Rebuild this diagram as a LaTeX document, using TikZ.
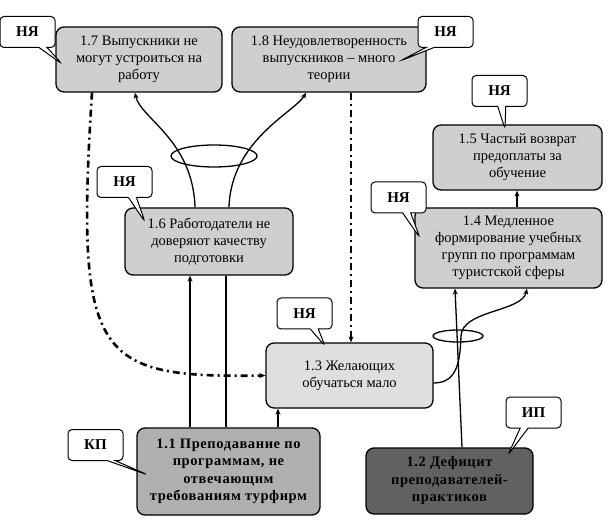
\documentclass[tikz,border=0pt]{standalone}
\usepackage{fontspec}
\setmainfont{Liberation Serif}
\usetikzlibrary{arrows.meta, shapes.callouts}

\begin{document}
\begin{tikzpicture}[x=1pt, y=-1pt,
      >={Stealth[length=6pt, width=5pt]},
  box/.style  = {draw, line width=1.3pt, rounded corners=8pt,
                 fill=gray!38, align=center, inner sep=2pt,
                 font=\rmfamily\fontsize{14.5}{17}\selectfont},
  boldbox/.style = {box, font=\rmfamily\fontsize{14.5}{17.5}\selectfont\bfseries\addfontfeatures{LetterSpace=4}},
  tag/.style  = {rectangle callout, draw, line width=1pt, fill=white,
                 rounded corners=4pt, minimum width=55pt, minimum height=31pt,
                 callout pointer width=8pt,
                 font=\rmfamily\fontsize{15}{16}\selectfont\bfseries},
  link/.style = {line width=1.3pt},
  dashdot/.style = {line width=2.6pt,
                 dash pattern=on 7pt off 4pt on 2pt off 4pt}]
  \useasboundingbox (0,0) rectangle (608,521);

  % boxes
  \node[box, minimum width=166pt, minimum height=65pt] (b17) at (139,59.5)
    {1.7 Выпускники не\\могут устроиться на\\работу};
  \node[box, minimum width=194pt, minimum height=65pt] (b18) at (329,59.5)
    {1.8 Неудовлетворенность\\выпускников -- много\\теории};
  \node[box, minimum width=169pt, minimum height=65pt] (b15) at (517.5,157.5)
    {1.5 Частый возврат\\предоплаты за\\обучение};
  \node[box, minimum width=187pt, minimum height=80pt] (b14) at (508.5,248)
    {1.4 Медленное\\формирование учебных\\групп по программам\\туристской сферы};
  \node[box, minimum width=168pt, minimum height=67pt] (b16) at (209,241.5)
    {1.6 Работодатели не\\доверяют качеству\\подготовки};
  \node[box, fill=gray!25, minimum width=167pt, minimum height=65pt] (b13) at (349.5,375.5)
    {1.3 Желающих\\обучаться мало};
  \node[boldbox, fill=gray!62, minimum width=183pt, minimum height=87pt] (b11) at (228.5,471.5)
    {1.1 Преподавание по\\программам, не\\отвечающим\\требованиям турфирм};
  \node[boldbox, fill=black!62, minimum width=167pt, minimum height=66pt] (b12) at (449.5,481)
    {1.2 Дефицит\\преподавателей-\\практиков};

  % links
  \draw[link, ->] ([xshift=-38.5pt]b11.north) -- ([xshift=-38.5pt]b11.north |- b16.south);
  \draw[link] ([xshift=-2.5pt]b11.north) -- ([xshift=-2.5pt]b11.north |- b16.south);
  \draw[link, ->] ([xshift=49.5pt]b11.north) -- ([xshift=49.5pt]b11.north |- b13.south);
  \draw[link, ->] ([xshift=-14pt]b16.north) .. controls (193,140) and (140,118) .. ([xshift=-4pt]b17.south);
  \draw[link, ->] ([xshift=20pt]b16.north) .. controls (231,140) and (295,112) .. ([xshift=-23pt]b18.south);
  \draw[link] (214,156) ellipse (43 and 11);

  \draw[link, ->] (b13.east |- 0,383) .. controls (458,383) and (460,360) .. (461,336)
                  .. controls (462,310) and (522,312) .. ([xshift=18.5pt]b14.south);
  \draw[link, ->] ([xshift=12.5pt]b12.north) -- ([xshift=-53.5pt]b14.south);
  \draw[link] (458,336) ellipse (25 and 6);
  \draw[link, ->] ([xshift=8.5pt]b14.north) -- ([xshift=8.5pt]b14.north |- b15.south);

  \draw[dashdot, ->] ([xshift=-47pt]b17.south) .. controls (75,360) and (95,378) .. (b13.west);
  \draw[dashdot, ->] ([xshift=22pt]b18.south) -- ([xshift=22pt]b18.south |- b13.north);

  % tags
  \node[tag, callout absolute pointer={(62,64)}]   (t17) at (27.5,32)    {НЯ};
  \node[tag, callout absolute pointer={(400,61)}]  (t18) at (445.5,32)   {НЯ};
  \node[tag, callout absolute pointer={(505,129)}] (t15) at (499.5,91)   {НЯ};
  \node[tag, callout absolute pointer={(420,238)}] (t14) at (398.5,197.5) {НЯ};
  \node[tag, callout absolute pointer={(145,222)}] (t16) at (124.5,182)  {НЯ};
  \node[tag, callout absolute pointer={(325,346)}] (t13) at (304.5,313.5) {НЯ};
  \node[tag, callout absolute pointer={(148,475)}] (tkp) at (95.5,445)   {КП};
  \node[tag, callout absolute pointer={(508,455)}] (tip) at (533.5,412.5) {ИП};
\end{tikzpicture}
\end{document}
